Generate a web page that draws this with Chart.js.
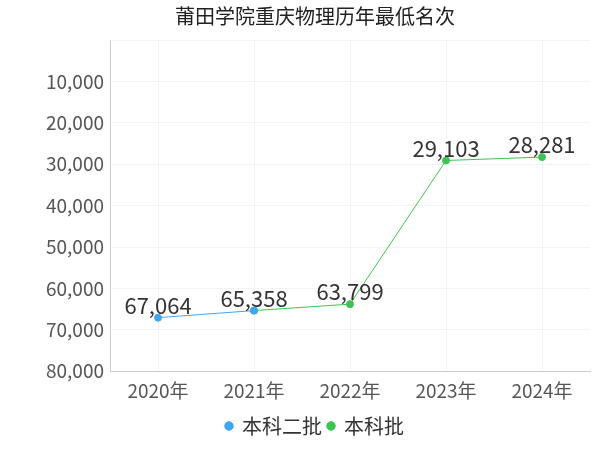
<!DOCTYPE html><html><head><meta charset="utf-8"><script src="https://cdn.jsdelivr.net/npm/chart.js@4"></script>
<style>body{margin:0;background:#fff}#w{width:600px;height:450px}</style></head><body><div id="w"><canvas id="c"></canvas></div>
<script>
const categories=['2020年','2021年','2022年','2023年','2024年'];
const seriesA=[67064,65358,null,null,null];
const seriesB=[null,65358,63799,29103,28281];
const labelVals=[67064,65358,63799,29103,28281];
const F='"Noto Sans CJK SC","Noto Sans",sans-serif';
const lbl={id:'lbl',afterDatasetsDraw(ch){const c=ch.ctx;const x=ch.scales.x,y=ch.scales.y;c.save();c.font='22px '+F;c.fillStyle='#333';c.textAlign='center';c.textBaseline='bottom';
labelVals.forEach((v,i)=>{c.fillText(v.toLocaleString('en-US'),x.getPixelForValue(i),y.getPixelForValue(v)-1);});c.restore();}};
new Chart(document.getElementById('c'),{type:'line',data:{labels:categories,datasets:[
{label:'本科二批',data:seriesA,borderColor:'#3ea6f5',backgroundColor:'#3ea6f5',borderWidth:1,pointRadius:3.5},
{label:'本科批',data:seriesB,borderColor:'#3cc453',backgroundColor:'#3cc453',borderWidth:1,pointRadius:3.5}]},
plugins:[lbl],
options:{responsive:true,maintainAspectRatio:false,animation:false,
layout:{padding:{left:40,right:10,top:0,bottom:4}},
plugins:{title:{display:true,text:'莆田学院重庆物理历年最低名次',align:'center',font:{family:F,size:20,weight:'normal'},color:'#222',padding:{top:4,bottom:12}},
legend:{position:'bottom',labels:{font:{family:F,size:20},color:'#333',usePointStyle:true,pointStyle:'circle',boxWidth:6,boxHeight:6,padding:6}}},
scales:{x:{offset:true,grid:{color:'#f3f3f3',drawTicks:false},border:{color:'#ccc'},ticks:{font:{family:F,size:19},color:'#555',padding:8}},
y:{reverse:true,min:0,max:80000,ticks:{stepSize:10000,font:{family:F,size:19},color:'#555',padding:6,callback:v=>v===0?'':v.toLocaleString('en-US')},grid:{color:'#f3f3f3',drawTicks:false},border:{color:'#ccc'}}}}});
</script></body></html>
